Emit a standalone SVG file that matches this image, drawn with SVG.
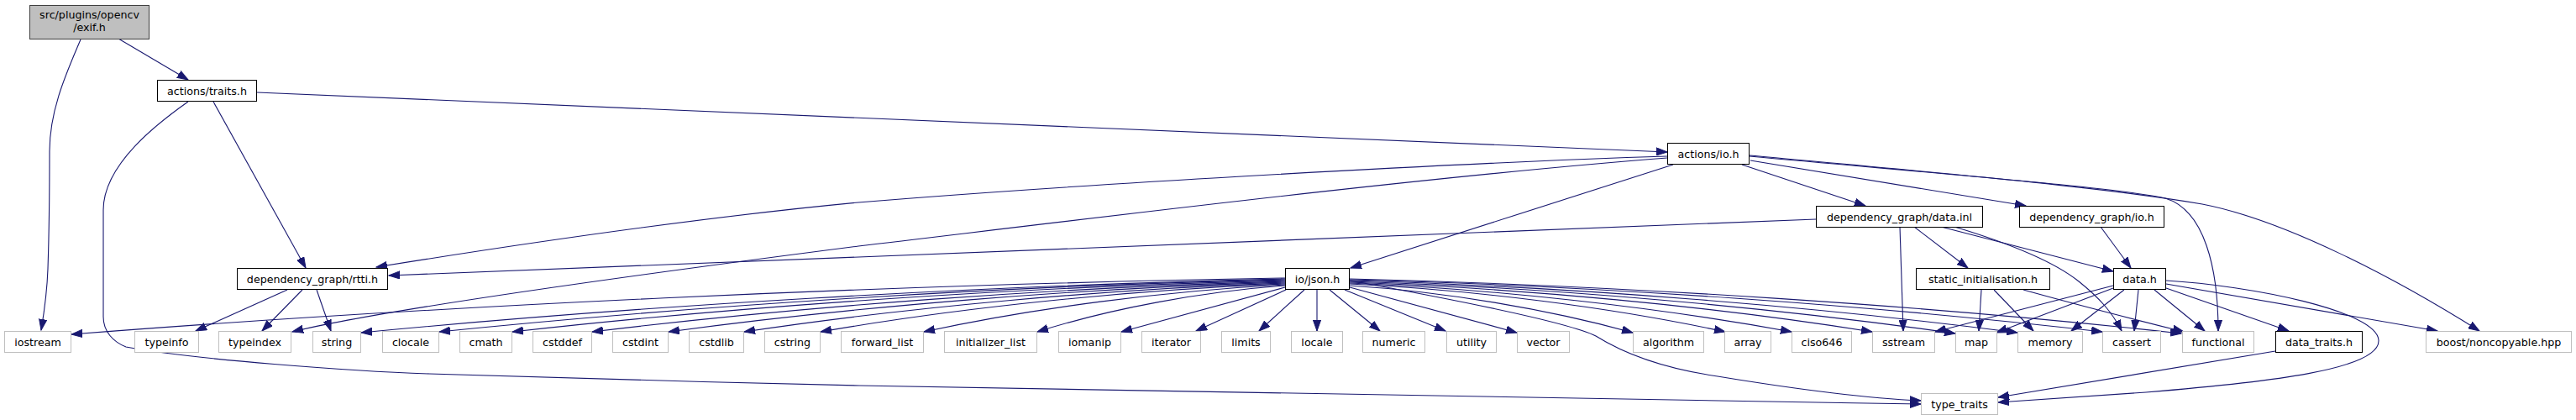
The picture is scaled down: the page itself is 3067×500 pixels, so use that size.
<svg xmlns="http://www.w3.org/2000/svg" width="3067" height="500" viewBox="0 0 3067 500">
<style>
.n rect{fill:#fff;stroke:#000;stroke-width:1}
.x rect{fill:#fff;stroke:#bfbfbf;stroke-width:1}
.m rect{fill:#bfbfbf;stroke:#404040;stroke-width:1}
text{font-family:"DejaVu Sans","Liberation Sans",sans-serif;font-size:12.67px;text-anchor:middle;fill:#000}
#edges path{fill:none;stroke:#191970;stroke-width:1.1;marker-end:url(#a)}
</style>
<defs>
<marker id="a" markerUnits="userSpaceOnUse" markerWidth="14" markerHeight="10" viewBox="0 0 14 10" refX="13" refY="5" orient="auto">
<path d="M0,0.4 L13,5 L0,9.6 z" fill="#191970" stroke="#191970" stroke-width="1"/>
</marker>
</defs>
<rect width="3067" height="500" fill="#fff"/>
<g id="edges">
<path d="M96,47 C80,85 59,130 59,180 C59,230 58,290 57,320 C56,350 52,375 49,393"/>
<path d="M141,46 L224,95"/>
<path d="M254,121 L364,319"/>
<path d="M224,121 C190,145 123,195 123,250 L123,377 C123,395 135,407 150,413 C230,428 420,442 511,445 C700,451 850,455 1023,459 C1300,465 1800,474 2287,481"/>
<path d="M306,110 L1985,181"/>
<path d="M1985,186 C1700,195 1250,222 1022,241 C800,262 560,300 448,318"/>
<path d="M1985,188 C1700,210 1300,260 1022,293 C750,328 450,370 348,395"/>
<path d="M1992,196 L1608,319"/>
<path d="M2074,196 L2221,245"/>
<path d="M2084,191 L2412,245"/>
<path d="M2083,186 C2300,206 2520,223 2578,236 C2625,250 2641,320 2641,394"/>
<path d="M2083,185 C2300,205 2500,222 2622,243 C2720,262 2850,330 2952,394"/>
<path d="M2162,261 L463,328"/>
<path d="M2262,270 L2266,394"/>
<path d="M2279,270 L2343,319"/>
<path d="M2311,270 L2516,323"/>
<path d="M2327,270 C2400,292 2450,315 2475,335 C2500,355 2515,372 2526,394"/>
<path d="M2501,270 L2537,319"/>
<path d="M2359,345 L2356,394"/>
<path d="M2374,345 L2421,394"/>
<path d="M2409,345 C2470,362 2540,380 2600,395"/>
<path d="M2516,340 L2304,395"/>
<path d="M2516,343 L2377,396"/>
<path d="M2529,345 L2466,394"/>
<path d="M2546,345 L2541,394"/>
<path d="M2565,345 L2625,394"/>
<path d="M2579,343 L2725,394"/>
<path d="M2579,338 L2902,394"/>
<path d="M2579,334 C2680,340 2830,370 2832,405 C2834,440 2700,455 2555,467 C2480,472 2420,476 2379,479"/>
<path d="M2709,418 L2379,473"/>
<path d="M342,345 L233,394"/>
<path d="M360,345 L312,394"/>
<path d="M377,345 L394,394"/>
<path d="M1530,331 C1053,339 518,364 85,398"/>
<path d="M1530,332 C1167,340 760,364 430,396"/>
<path d="M1530,333 C1198,340 825,364 523,395"/>
<path d="M1530,334 C1226,341 886,364 610,395"/>
<path d="M1530,335 C1258,342 952,365 705,395"/>
<path d="M1530,336 C1288,343 1016,365 796,395"/>
<path d="M1530,337 C1317,344 1079,366 886,395"/>
<path d="M1530,338 C1347,345 1143,366 977,395"/>
<path d="M1530,339 C1388,346 1229,367 1100,395"/>
<path d="M1530,340 C1433,347 1323,367 1235,395"/>
<path d="M1530,342 L1335,395"/>
<path d="M1531,345 L1424,394"/>
<path d="M1553,345 L1499,394"/>
<path d="M1568,345 L1568,394"/>
<path d="M1583,345 L1643,394"/>
<path d="M1601,345 L1721,394"/>
<path d="M1607,342 L1806,396"/>
<path d="M1607,340 C1718,347 1843,368 1944,396"/>
<path d="M1607,338 C1754,345 1920,366 2054,395"/>
<path d="M1607,337 C1781,344 1975,366 2133,395"/>
<path d="M1607,336 C1812,343 2042,365 2229,395"/>
<path d="M1607,335 C1845,342 2112,366 2328,397"/>
<path d="M1607,334 C1869,341 2163,365 2402,396"/>
<path d="M1607,333 C1903,340 2234,364 2503,395"/>
<path d="M1607,332 C1934,340 2301,364 2597,397"/>
<path d="M1607,334 C1750,360 1870,385 1900,400 C1940,425 1990,440 2045,448 C2130,462 2220,474 2287,477"/>
</g>
<g id="exif" class="m"><rect x="35.5" y="6.5" width="142" height="40"/><text x="106.5" y="22">src/plugins/opencv</text><text x="106.5" y="37">/exif.h</text></g>
<g id="traits" class="n"><rect x="187.5" y="95.5" width="118" height="25"/><text x="246.5" y="112.5">actions/traits.h</text></g>
<g id="actions_io" class="n"><rect x="1985.5" y="170.5" width="97" height="25"/><text x="2034" y="187.5">actions/io.h</text></g>
<g id="data_inl" class="n"><rect x="2162.5" y="245.5" width="198" height="25"/><text x="2261.5" y="262.5">dependency_graph/data.inl</text></g>
<g id="dg_io" class="n"><rect x="2404.5" y="245.5" width="172" height="25"/><text x="2490.5" y="262.5">dependency_graph/io.h</text></g>
<g id="rtti" class="n"><rect x="282.5" y="319.5" width="179" height="25"/><text x="372" y="336.5">dependency_graph/rtti.h</text></g>
<g id="json" class="n"><rect x="1530.5" y="319.5" width="76" height="25"/><text x="1568.5" y="336.5">io/json.h</text></g>
<g id="static_init" class="n"><rect x="2281.5" y="319.5" width="159" height="25"/><text x="2361" y="336.5">static_initialisation.h</text></g>
<g id="data_h" class="n"><rect x="2516.5" y="319.5" width="62" height="25"/><text x="2547.5" y="336.5">data.h</text></g>
<g id="type_traits" class="x"><rect x="2287.5" y="468.5" width="91" height="25"/><text x="2333" y="485.5">type_traits</text></g>
<g id="iostream" class="x"><rect x="5.5" y="394.5" width="79" height="25"/><text x="45" y="411.5">iostream</text></g>
<g id="typeinfo" class="x"><rect x="160.5" y="394.5" width="76" height="25"/><text x="198.5" y="411.5">typeinfo</text></g>
<g id="typeindex" class="x"><rect x="260.5" y="394.5" width="86" height="25"/><text x="303.5" y="411.5">typeindex</text></g>
<g id="string" class="x"><rect x="372.5" y="394.5" width="57" height="25"/><text x="401" y="411.5">string</text></g>
<g id="clocale" class="x"><rect x="455.5" y="394.5" width="67" height="25"/><text x="489" y="411.5">clocale</text></g>
<g id="cmath" class="x"><rect x="547.5" y="394.5" width="62" height="25"/><text x="578.5" y="411.5">cmath</text></g>
<g id="cstddef" class="x"><rect x="634.5" y="394.5" width="70" height="25"/><text x="669.5" y="411.5">cstddef</text></g>
<g id="cstdint" class="x"><rect x="729.5" y="394.5" width="66" height="25"/><text x="762.5" y="411.5">cstdint</text></g>
<g id="cstdlib" class="x"><rect x="820.5" y="394.5" width="65" height="25"/><text x="853" y="411.5">cstdlib</text></g>
<g id="cstring" class="x"><rect x="910.5" y="394.5" width="66" height="25"/><text x="943.5" y="411.5">cstring</text></g>
<g id="forward_list" class="x"><rect x="1001.5" y="394.5" width="98" height="25"/><text x="1050.5" y="411.5">forward_list</text></g>
<g id="initializer_list" class="x"><rect x="1124.5" y="394.5" width="110" height="25"/><text x="1179.5" y="411.5">initializer_list</text></g>
<g id="iomanip" class="x"><rect x="1260.5" y="394.5" width="74" height="25"/><text x="1297.5" y="411.5">iomanip</text></g>
<g id="iterator" class="x"><rect x="1359.5" y="394.5" width="70" height="25"/><text x="1394.5" y="411.5">iterator</text></g>
<g id="limits" class="x"><rect x="1454.5" y="394.5" width="58" height="25"/><text x="1483.5" y="411.5">limits</text></g>
<g id="locale" class="x"><rect x="1537.5" y="394.5" width="61" height="25"/><text x="1568" y="411.5">locale</text></g>
<g id="numeric" class="x"><rect x="1622.5" y="394.5" width="74" height="25"/><text x="1659.5" y="411.5">numeric</text></g>
<g id="utility" class="x"><rect x="1722.5" y="394.5" width="59" height="25"/><text x="1752" y="411.5">utility</text></g>
<g id="vector" class="x"><rect x="1806.5" y="394.5" width="62" height="25"/><text x="1837.5" y="411.5">vector</text></g>
<g id="algorithm" class="x"><rect x="1944.5" y="394.5" width="84" height="25"/><text x="1986.5" y="411.5">algorithm</text></g>
<g id="array" class="x"><rect x="2053.5" y="394.5" width="55" height="25"/><text x="2081" y="411.5">array</text></g>
<g id="ciso646" class="x"><rect x="2133.5" y="394.5" width="71" height="25"/><text x="2169" y="411.5">ciso646</text></g>
<g id="sstream" class="x"><rect x="2229.5" y="394.5" width="74" height="25"/><text x="2266.5" y="411.5">sstream</text></g>
<g id="map" class="x"><rect x="2328.5" y="394.5" width="49" height="25"/><text x="2353" y="411.5">map</text></g>
<g id="memory" class="x"><rect x="2402.5" y="394.5" width="77" height="25"/><text x="2441" y="411.5">memory</text></g>
<g id="cassert" class="x"><rect x="2503.5" y="394.5" width="69" height="25"/><text x="2538" y="411.5">cassert</text></g>
<g id="functional" class="x"><rect x="2598.5" y="394.5" width="85" height="25"/><text x="2641" y="411.5">functional</text></g>
<g id="data_traits" class="n"><rect x="2709.5" y="394.5" width="103" height="25"/><text x="2761" y="411.5">data_traits.h</text></g>
<g id="boost" class="x"><rect x="2888.5" y="394.5" width="173" height="25"/><text x="2975" y="411.5">boost/noncopyable.hpp</text></g>
</svg>
